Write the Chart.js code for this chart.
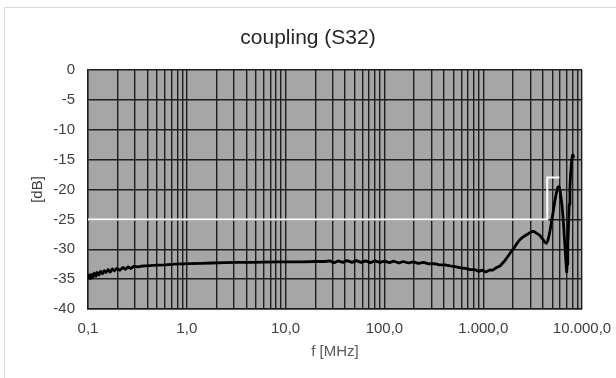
<!DOCTYPE html>
<html><head><meta charset="utf-8">
<script src="https://cdn.jsdelivr.net/npm/chart.js@4/dist/chart.umd.min.js"></script>
<style>html,body{margin:0;padding:0;background:#fff;}canvas{display:block;}</style>
</head><body>
<canvas id="c" width="616" height="378"></canvas>
<script>
const freqMHz = [0.100,0.103,0.106,0.109,0.112,0.116,0.120,0.124,0.129,0.134,0.140,0.146,0.152,0.160,0.168,0.176,0.185,0.195,0.21,0.225,0.24,0.255,0.27,0.29,0.32,0.36,0.42,0.5,0.6,0.75,0.9,1.1,1.4,1.8,2.4,3.2,4.5,6,8,11,15,20,25,28,31,34,38,42,47,52,58,65,72,80,90,100,112,125,140,155,175,195,220,250,280,320,360,410,460,520,590,660,740,820,900,980,1060,1150,1250,1350,1480,1620,1760,1900,2050,2200,2350,2550,2800,3050,3250,3450,3700,4000,4200,4350,4500,4700,4900,5100,5300,5500,5700,5850,6000,6150,6300,6450,6600,6750,6900,7000,7080,7180,7300,7420,7550,7700,7850,8000,8100,8250];
const s32dB = [-35.0,-34.3,-34.9,-34.2,-34.7,-34.0,-34.5,-33.9,-34.3,-33.7,-34.1,-33.6,-33.9,-33.4,-33.8,-33.3,-33.6,-33.2,-33.5,-33.05,-33.35,-32.95,-33.25,-32.85,-32.95,-32.8,-32.75,-32.65,-32.6,-32.5,-32.45,-32.4,-32.35,-32.3,-32.25,-32.2,-32.2,-32.15,-32.1,-32.1,-32.1,-32.05,-32.05,-31.95,-32.25,-31.95,-32.2,-31.9,-32.2,-31.9,-32.2,-31.95,-32.25,-31.95,-32.2,-32.0,-32.25,-32.0,-32.3,-32.05,-32.3,-32.1,-32.35,-32.2,-32.45,-32.4,-32.6,-32.6,-32.8,-32.9,-33.1,-33.2,-33.4,-33.4,-33.7,-33.5,-33.8,-33.5,-33.5,-33.1,-32.8,-32.1,-31.3,-30.5,-29.8,-29.0,-28.4,-27.9,-27.5,-27.1,-27.0,-27.3,-27.6,-28.3,-28.8,-29.0,-28.6,-27.3,-25.5,-23.8,-22.0,-20.6,-19.6,-19.5,-20.2,-21.5,-23.0,-25.0,-27.5,-30.0,-32.5,-33.8,-32.5,-29.5,-26.0,-22.5,-19.5,-17.0,-15.2,-14.3,-14.2,-14.7];
const limitFreqMHz = [0.1, 4450, 4450, 5900];
const limitDB = [-25, -25, -18, -18];
const xMajorTicks = [0.1, 1, 10, 100, 1000, 10000];
const xTickLabels = ['0,1', '1,0', '10,0', '100,0', '1.000,0', '10.000,0'];
const yTickValues = [-40, -35, -30, -25, -20, -15, -10, -5, 0];
const yTickLabels = ['-40', '-35', '-30', '-25', '-20', '-15', '-10', '-5', '0'];

const FONT = "'Liberation Sans', Arial, sans-serif";

const bgPlugin = {
  id: 'bg',
  beforeDraw(chart) {
    const ctx = chart.ctx, a = chart.chartArea;
    ctx.save();
    ctx.fillStyle = '#ffffff';
    ctx.fillRect(0, 0, chart.width, chart.height);
    ctx.strokeStyle = '#d9d9d9';
    ctx.lineWidth = 1;
    ctx.strokeRect(4.5, 7.5, chart.width + 20, chart.height + 20);
    ctx.fillStyle = '#a6a6a6';
    ctx.fillRect(a.left, a.top, a.right - a.left, a.bottom - a.top);
    ctx.restore();
  }
};

const mainData = freqMHz.map((f, i) => ({x: f, y: s32dB[i]}));
const limitData = limitFreqMHz.map((f, i) => ({x: f, y: limitDB[i]}));

new Chart(document.getElementById('c'), {
  type: 'line',
  data: {
    datasets: [
      {label: 'S32', data: mainData, borderColor: '#000000', borderWidth: 2.8, pointRadius: 0, tension: 0, fill: false, order: 1, borderJoinStyle: 'round'},
      {label: 'limit', data: limitData, borderColor: '#ffffff', borderWidth: 2, pointRadius: 0, tension: 0, fill: false, order: 2}
    ]
  },
  options: {
    responsive: false,
    animation: false,
    devicePixelRatio: 1,
    layout: {padding: 0},
    plugins: {
      legend: {display: false},
      tooltip: {enabled: false},
      title: {
        display: true,
        text: 'coupling (S32)',
        color: '#262626',
        font: {family: FONT, size: 21, weight: 'normal', lineHeight: 1.2},
        padding: {top: 26, bottom: 18.8}
      }
    },
    scales: {
      x: {
        type: 'logarithmic',
        min: 0.1,
        max: 10000,
        afterBuildTicks(scale) {
          const t = [];
          for (let d = 0; d < xMajorTicks.length - 1; d++) {
            for (let m = 1; m <= 9; m++) t.push({value: xMajorTicks[d] * m});
          }
          t.push({value: xMajorTicks[xMajorTicks.length - 1]});
          scale.ticks = t;
        },
        afterFit(scale) { scale.height = 69; scale.paddingRight = 34; },
        ticks: {
          autoSkip: false,
          maxRotation: 0,
          padding: 11,
          color: '#404040',
          font: {family: FONT, size: 15},
          callback(v) {
            const i = xMajorTicks.findIndex(m => Math.abs(m - v) / m < 1e-6);
            return i >= 0 ? xTickLabels[i] : '';
          }
        },
        grid: {color: '#1e1e1e', lineWidth: 1.4, drawTicks: false},
        border: {color: '#1e1e1e', width: 1.4},
        title: {display: true, text: 'f [MHz]', color: '#595959', font: {family: FONT, size: 15}, padding: {top: 0, bottom: 17}}
      },
      y: {
        min: -40,
        max: 0,
        afterBuildTicks(scale) { scale.ticks = yTickValues.map(v => ({value: v})); },
        afterFit(scale) { scale.width = 88; },
        ticks: {
          padding: 13,
          color: '#404040',
          font: {family: FONT, size: 15},
          callback(v) {
            const i = yTickValues.indexOf(v);
            return i >= 0 ? yTickLabels[i] : '';
          }
        },
        grid: {color: '#1e1e1e', lineWidth: 1.4, drawTicks: false},
        border: {color: '#1e1e1e', width: 1.4},
        title: {display: true, text: '[dB]', color: '#404040', font: {family: FONT, size: 15}, padding: {top: 29, bottom: 0}}
      }
    }
  },
  plugins: [bgPlugin]
});
</script>
</body></html>
